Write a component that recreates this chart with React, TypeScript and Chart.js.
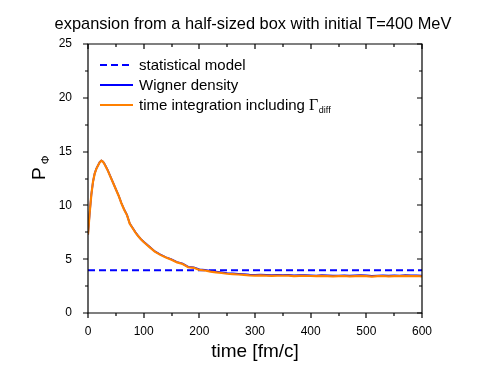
import React, { useEffect, useRef } from "react";
import { Chart, registerables } from "chart.js";

Chart.register(...registerables);

const chartTitle = "expansion from a half-sized box with initial T=400 MeV";
const xAxisTitle = "time [fm/c]";
const legendLabels = ["statistical model", "Wigner density", "time integration including "];

const times = [
  0, 3, 6, 9, 12, 15, 18, 21, 24, 27, 30, 35, 40, 45, 50, 55, 60, 65, 70, 75, 80, 85, 90, 95, 100,
  110, 120, 130, 140, 150, 160, 170, 180, 190, 200, 210, 220, 230, 240, 250, 260, 270, 280, 290, 300,
  310, 320, 330, 340, 350, 360, 370, 380, 390, 400, 410, 420, 430, 440, 450, 460, 470, 480, 490, 500,
  510, 520, 530, 540, 550, 560, 570, 580, 590, 600,
];

const timeIntegration = [
  7.3, 9.3, 11.0, 12.2, 12.95, 13.4, 13.7, 14.0, 14.15, 14.05, 13.8, 13.3, 12.7, 12.1, 11.5, 10.9, 10.2, 9.6, 9.1, 8.3, 7.9, 7.5, 7.15, 6.85, 6.6,
  6.15, 5.7, 5.4, 5.15, 4.95, 4.7, 4.55, 4.25, 4.2, 4.0, 3.95, 3.85, 3.78, 3.72, 3.65, 3.62, 3.58, 3.55, 3.5, 3.48,
  3.5, 3.47, 3.45, 3.48, 3.46, 3.47, 3.43, 3.45, 3.46, 3.44, 3.42, 3.45, 3.43, 3.4, 3.42, 3.44, 3.41, 3.43, 3.45, 3.43,
  3.38, 3.42, 3.44, 3.41, 3.43, 3.42, 3.45, 3.43, 3.44, 3.4,
];

const wignerDensity = [
  7.3, 9.3, 11.0, 12.2, 12.97, 13.42, 13.72, 14.02, 14.17, 14.07, 13.82, 13.32, 12.72, 12.12, 11.52, 10.92, 10.22, 9.62, 9.12, 8.32, 7.92, 7.52, 7.17, 6.87, 6.62,
  6.18, 5.73, 5.43, 5.18, 4.98, 4.74, 4.59, 4.29, 4.25, 4.05, 4.01, 3.91, 3.84, 3.78, 3.71, 3.68, 3.64, 3.61, 3.56, 3.54,
  3.56, 3.53, 3.51, 3.54, 3.52, 3.53, 3.49, 3.51, 3.52, 3.5, 3.48, 3.51, 3.49, 3.46, 3.48, 3.5, 3.47, 3.49, 3.51, 3.49,
  3.45, 3.48, 3.5, 3.47, 3.49, 3.48, 3.51, 3.49, 3.5, 3.47,
];

const statTimes = [0, 600];
const statisticalModel = [3.97, 3.97];

const BLUE = "#0000ff";
const ORANGE = "#ff8000";
const FONT = "'Liberation Sans', Arial, Helvetica, sans-serif";

const framePlugin = {
  id: "framePlugin",
  afterDraw(chart: any) {
    const ctx = chart.ctx as CanvasRenderingContext2D;
    const { left, right, top, bottom } = chart.chartArea;
    const xs = chart.scales.x;
    const ys = chart.scales.y;
    ctx.save();
    ctx.strokeStyle = "#000";
    ctx.lineWidth = 1.2;
    ctx.beginPath();
    ctx.rect(left, top, right - left, bottom - top);
    ctx.stroke();
    // ticks
    ctx.beginPath();
    for (let v = 0; v <= 600; v += 50) {
      const px = Math.round(xs.getPixelForValue(v));
      const major = v % 100 === 0;
      const len = major ? 5 : 3;
      ctx.moveTo(px, bottom);
      ctx.lineTo(px, bottom + len);
      ctx.moveTo(px, top);
      ctx.lineTo(px, top + len);
    }
    for (let v = 0; v <= 25; v += 2.5) {
      const py = Math.round(ys.getPixelForValue(v));
      const major = v % 5 === 0;
      const len = major ? 5 : 3;
      ctx.moveTo(left, py);
      ctx.lineTo(left - len, py);
      ctx.moveTo(right, py);
      ctx.lineTo(right - len, py);
    }
    ctx.stroke();

    // title
    ctx.fillStyle = "#000";
    ctx.font = `16.4px ${FONT}`;
    ctx.textAlign = "center";
    ctx.textBaseline = "alphabetic";
    ctx.fillText(chartTitle, (left + right) / 2 - 2, 29);

    // x axis title
    ctx.font = `19px ${FONT}`;
    ctx.fillText(xAxisTitle, (left + right) / 2, 357);

    // y axis title: P with subscript Phi, rotated
    ctx.save();
    ctx.translate(45, 180);
    ctx.rotate(-Math.PI / 2);
    ctx.textAlign = "left";
    ctx.font = `19px ${FONT}`;
    ctx.fillText("P", 0, 0);
    const pw = ctx.measureText("P").width;
    ctx.font = `11px ${FONT}`;
    ctx.fillText("\u03A6", pw + 3, 4);
    ctx.restore();

    // legend
    const lx0 = 100;
    const lx1 = 133;
    const tx = 139;
    const rows = [65, 85, 105];
    ctx.lineWidth = 2;
    ctx.strokeStyle = BLUE;
    ctx.setLineDash([7, 4]);
    ctx.beginPath();
    ctx.moveTo(lx0, rows[0]);
    ctx.lineTo(lx1, rows[0]);
    ctx.stroke();
    ctx.setLineDash([]);
    ctx.beginPath();
    ctx.moveTo(lx0, rows[1]);
    ctx.lineTo(lx1, rows[1]);
    ctx.stroke();
    ctx.strokeStyle = ORANGE;
    ctx.beginPath();
    ctx.moveTo(lx0, rows[2]);
    ctx.lineTo(lx1, rows[2]);
    ctx.stroke();

    ctx.fillStyle = "#000";
    ctx.font = `15px ${FONT}`;
    ctx.textAlign = "left";
    ctx.textBaseline = "middle";
    ctx.fillText(legendLabels[0], tx, rows[0] + 1);
    ctx.fillText(legendLabels[1], tx, rows[1] + 1);
    ctx.fillText(legendLabels[2], tx, rows[2] + 1);
    const w3 = ctx.measureText(legendLabels[2]).width;
    ctx.font = `16px 'Liberation Serif', 'Times New Roman', serif`;
    ctx.fillText("\u0393", tx + w3, rows[2] + 1);
    const gw = ctx.measureText("\u0393").width;
    ctx.font = `9px ${FONT}`;
    ctx.fillText("diff", tx + w3 + gw + 0.5, rows[2] + 6);
    ctx.restore();
  },
};

export default function App() {
  const ref = useRef<HTMLCanvasElement>(null);
  useEffect(() => {
    const canvas = ref.current;
    if (!canvas) return;
    const toXY = (xs: number[], ys: number[]) => xs.map((x, i) => ({ x, y: ys[i] }));
    const chart = new Chart(canvas, {
      type: "line",
      data: {
        datasets: [
          {
            label: legendLabels[2],
            data: toXY(times, timeIntegration),
            borderColor: ORANGE,
            borderWidth: 2.2,
            pointRadius: 0,
            tension: 0,
            order: 0,
          },
          {
            label: legendLabels[1],
            data: toXY(times, wignerDensity),
            borderColor: BLUE,
            borderWidth: 1.8,
            pointRadius: 0,
            tension: 0,
            order: 1,
          },
          {
            label: legendLabels[0],
            data: toXY(statTimes, statisticalModel),
            borderColor: BLUE,
            borderWidth: 2,
            borderDash: [7, 4],
            pointRadius: 0,
            order: 2,
          },
        ],
      },
      options: {
        animation: false,
        responsive: false,
        devicePixelRatio: 1,
        layout: { padding: { top: 44, right: 69, left: 0, bottom: 0 } },
        plugins: { legend: { display: false }, title: { display: false }, tooltip: { enabled: false } },
        scales: {
          x: {
            type: "linear",
            min: 0,
            max: 600,
            ticks: {
              stepSize: 100,
              color: "#000",
              font: { family: FONT, size: 12 },
              padding: 3,
              maxRotation: 0,
            },
            grid: { display: false },
            border: { display: false },
            afterFit: (s: any) => {
              s.height = 63;
            },
          },
          y: {
            type: "linear",
            min: 0,
            max: 25,
            ticks: {
              stepSize: 5,
              color: "#000",
              font: { family: FONT, size: 12 },
              padding: 8,
            },
            grid: { display: false },
            border: { display: false },
            afterFit: (s: any) => {
              s.width = 88;
            },
          },
        },
      },
      plugins: [framePlugin],
    });
    return () => chart.destroy();
  }, []);
  return (
    <div style={{ position: "absolute", left: 0, top: 0, width: 491, height: 376, background: "#fff" }}>
      <canvas ref={ref} width={491} height={376} />
    </div>
  );
}
